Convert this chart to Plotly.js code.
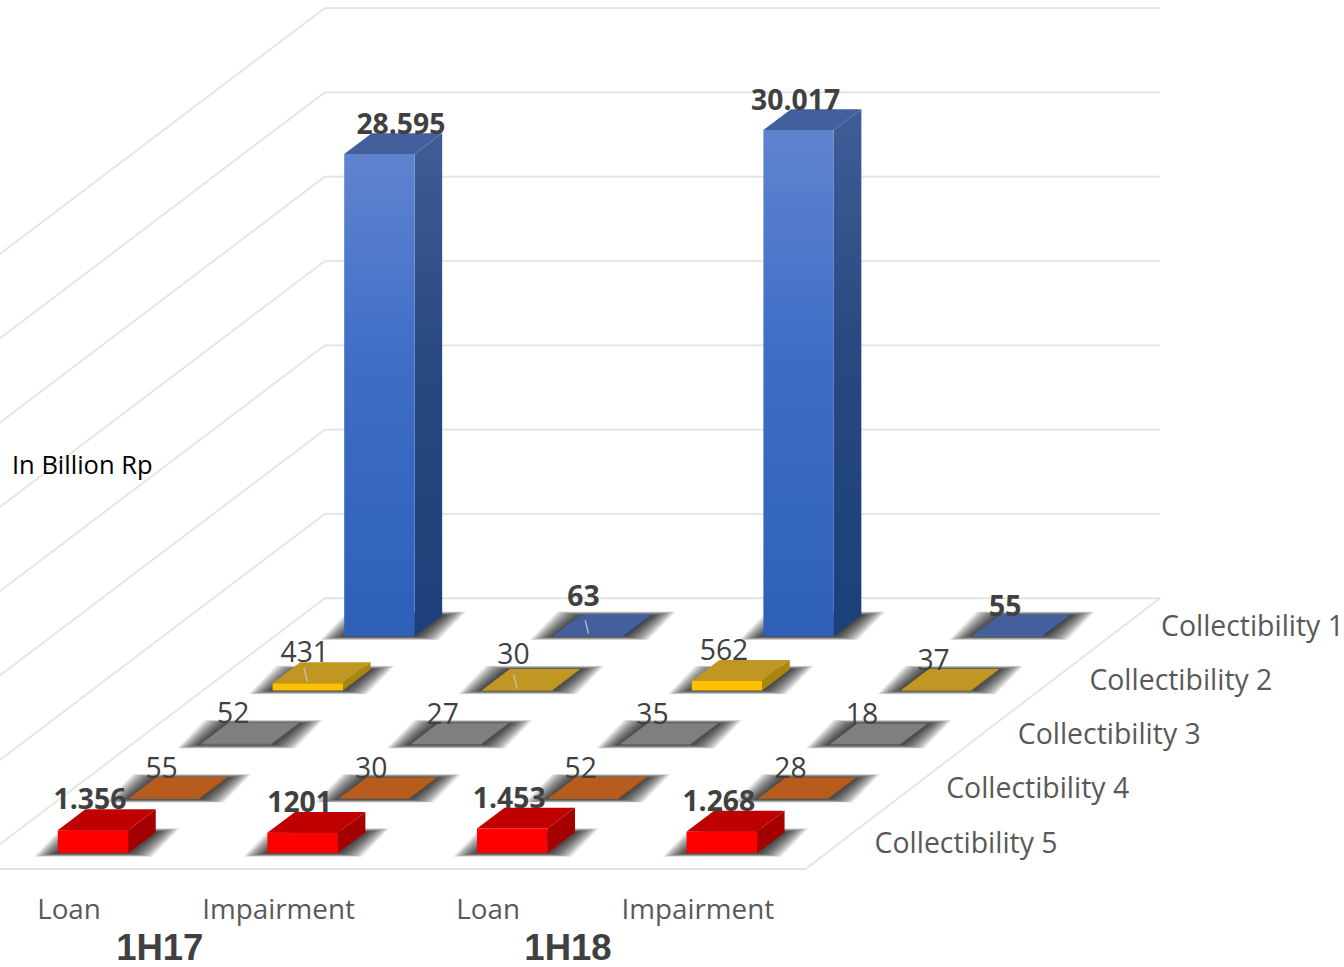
<!DOCTYPE html>
<html>
<head>
<meta charset="utf-8">
<script src="https://cdn.plot.ly/plotly-3.0.1.min.js"></script>
<style>html,body{margin:0;padding:0;background:#fff}#chart{width:1344px;height:967px}</style>
</head>
<body>
<div id="chart"></div>
<script>
// Values in billion Rp, one array per collectibility class
const categories = ['Loan', 'Impairment', 'Loan', 'Impairment'];
const periods = ['1H17', '1H18'];
const seriesNames = ['Collectibility 5', 'Collectibility 4', 'Collectibility 3', 'Collectibility 2', 'Collectibility 1'];
const collectibility1 = [28595, 63, 30017, 55];
const collectibility2 = [431, 30, 562, 37];
const collectibility3 = [52, 27, 35, 18];
const collectibility4 = [55, 30, 52, 28];
const collectibility5 = [1356, 1201, 1453, 1268];
const labels1 = ['28.595', '63', '30.017', '55'];
const labels2 = ['431', '30', '562', '37'];
const labels3 = ['52', '27', '35', '18'];
const labels4 = ['55', '30', '52', '28'];
const labels5 = ['1.356', '1201', '1.453', '1.268'];
const gridValues = [0, 5000, 10000, 15000, 20000, 25000, 30000, 35000];

// Oblique projection: category, value and depth row collapse onto the two plot axes
const W = 1344, H = 967;
const catPx = 209.6, originX = 93, originY = 853, valPx = 84.3 / 5000;
const rowPxX = 71.6, rowPxY = 54.2;
const halfBar = 35.2 / catPx, barDepth = 0.385;
const px = d => d / catPx;
const py = d => d / valPx;
const project = (c, v, row) => [c + row * rowPxX / catPx, v + row * rowPxY / valPx];

// Row 0 is the front row; faces are [front, side, top]
const rows = [
  {values: collectibility5, labels: labels5, bold: true,
   front: '#ff0000', side: '#a50000', top: '#c00000'},
  {values: collectibility4, labels: labels4, bold: false,
   front: '#c8681f', side: '#a0501a', top: '#b85c1e'},
  {values: collectibility3, labels: labels3, bold: false,
   front: '#8a8a8a', side: '#6e6e6e', top: '#7f7f7f'},
  {values: collectibility2, labels: labels2, bold: false,
   front: '#ffc000', side: '#a9860f', top: '#bf9722'},
  {values: collectibility1, labels: labels1, bold: true,
   front: [[0, '#2e60ba'], [0.55, '#3d6dc6'], [1, '#6083d0']],
   side: [[0, '#1d3f7a'], [0.55, '#28497f'], [1, '#3f5d96']], top: '#44609c'}
];

const traces = [];
const xs = pts => pts.map(p => p[0]);
const ys = pts => pts.map(p => p[1]);
const closed = pts => pts.concat([pts[0]]);

// Floor and wall gridlines
const floorFront = -0.295, floorBack = 4.7, wallLeft = -0.5, wallRight = 3.485, frontRight = 3.5;
gridValues.forEach((v, i) => {
  const line = [project(wallLeft, v, floorFront), project(wallLeft, v, floorBack), project(wallRight, v, floorBack)];
  if (i === 0) line.push(project(frontRight, v, floorFront), project(wallLeft, v, floorFront));
  traces.push({x: xs(line), y: ys(line), mode: 'lines', hoverinfo: 'skip', showlegend: false,
    line: {color: '#e4e4e4', width: 1.8}});
});

// Soft floor shadow: a stack of faint outlines that tightens toward each bar foot
const shadowLayers = 16;
for (let k = 0; k < shadowLayers; k++) {
  const t = k / (shadowLayers - 1);
  const hx = 23 * (1 - t) + 1, hy = 3.6 * (1 - t) + 0.2;
  const sx = [], sy = [];
  rows.forEach((r, row) => r.values.forEach((_, c) => {
    const a = project(c - halfBar, 0, row), b = project(c + halfBar, 0, row);
    const d = project(c + halfBar, 0, row + barDepth), e = project(c - halfBar, 0, row + barDepth);
    const poly = [[a[0] - px(hx), a[1] - py(hy)], [b[0] + px(hx), b[1] - py(hy)],
                  [d[0] + px(hx), d[1] + py(hy)], [e[0] - px(hx), e[1] + py(hy)]];
    closed(poly).forEach(p => { sx.push(p[0]); sy.push(p[1]); });
    sx.push(null); sy.push(null);
  }));
  traces.push({x: sx, y: sy, mode: 'none', fill: 'toself', fillcolor: 'rgba(0,0,0,0.075)',
    hoverinfo: 'skip', showlegend: false});
}

function face(pts, paint) {
  const t = {x: xs(closed(pts)), y: ys(closed(pts)), mode: 'none', fill: 'toself',
    hoverinfo: 'skip', showlegend: false};
  if (Array.isArray(paint)) {
    t.fillgradient = {type: 'vertical', colorscale: paint};
  } else {
    t.fillcolor = paint;
  }
  traces.push(t);
}

// Bars, painted from the back row forward
for (let row = rows.length - 1; row >= 0; row--) {
  const r = rows[row];
  r.values.forEach((v, c) => {
    const l = c - halfBar, R = c + halfBar, back = row + barDepth;
    face([project(l, v, row), project(R, v, row), project(R, v, back), project(l, v, back)], r.top);
    face([project(R, 0, row), project(R, 0, back), project(R, v, back), project(R, v, row)], r.side);
    face([project(l, 0, row), project(R, 0, row), project(R, v, row), project(l, v, row)], r.front);
  });
}

// Short leader ticks between a few labels and their marks
[[1, 4], [0, 3], [1, 3]].forEach(([c, row]) => {
  const v = rows[row].values[c];
  const p = project(c, v, row);
  traces.push({x: [p[0] - px(0.5), p[0] - px(3.8)], y: [p[1] + py(1.5), p[1] + py(15)],
    mode: 'lines', hoverinfo: 'skip', showlegend: false, line: {color: '#c4c4c4', width: 1.2}});
});

// Value labels sit a fixed distance above the front edge of each bar
const labelLift = [28, 27, 27.5, 28, 28];
const labelShiftCustom = {'4:0': [21.5, 27.5], '4:1': [-5.5, 36.5], '4:2': [-3, 27], '4:3': [-3, 26.5], '3:1': [-4, 33], '3:3': [-3, 27]};
function addText(pts, text, font, position) {
  traces.push({x: xs(pts), y: ys(pts), text: text, mode: 'text',
    textposition: position || 'middle center', textfont: font,
    hoverinfo: 'skip', showlegend: false, cliponaxis: false});
}
const uiFace = '"Open Sans", sans-serif';
rows.forEach((r, row) => {
  const pts = r.values.map((v, c) => {
    const s = labelShiftCustom[row + ':' + c] || [-3, labelLift[row]];
    const p = project(c, v, row);
    return [p[0] + px(s[0]), p[1] + py(s[1])];
  });
  addText(pts, r.labels, {family: uiFace, size: 28.3, color: '#404040', weight: r.bold ? 700 : 400});
});

// Axis text
addText(categories.map((_, c) => [c + px(-24), py(-59.5)]), categories,
  {family: uiFace, size: 27.8, color: '#595959'});
addText(periods.map((_, i) => [2 * i + 0.5 + px(i === 0 ? -38 : -49), py(-98)]), periods,
  {family: '"Liberation Sans", sans-serif', size: 36.5, color: '#404040', weight: 700});
addText(seriesNames.map((_, row) => {
  const p = project(3.5, 0, row);
  return [p[0] + px(48), p[1] + py(7.5)];
}), seriesNames, {family: uiFace, size: 28.4, color: '#595959'}, 'middle right');
addText([[px(12 - originX), py(originY - 468)]], ['In Billion Rp'],
  {family: uiFace, size: 25.5, color: '#000000'}, 'middle right');

const layout = {
  width: W, height: H,
  margin: {l: 0, r: 0, t: 0, b: 0},
  paper_bgcolor: '#ffffff', plot_bgcolor: '#ffffff',
  showlegend: false,
  xaxis: {range: [-originX / catPx, (W - originX) / catPx], visible: false, fixedrange: true},
  yaxis: {range: [(originY - H) / valPx, originY / valPx], visible: false, fixedrange: true}
};
Plotly.newPlot('chart', traces, layout, {displayModeBar: false, staticPlot: true});
</script>
</body>
</html>
